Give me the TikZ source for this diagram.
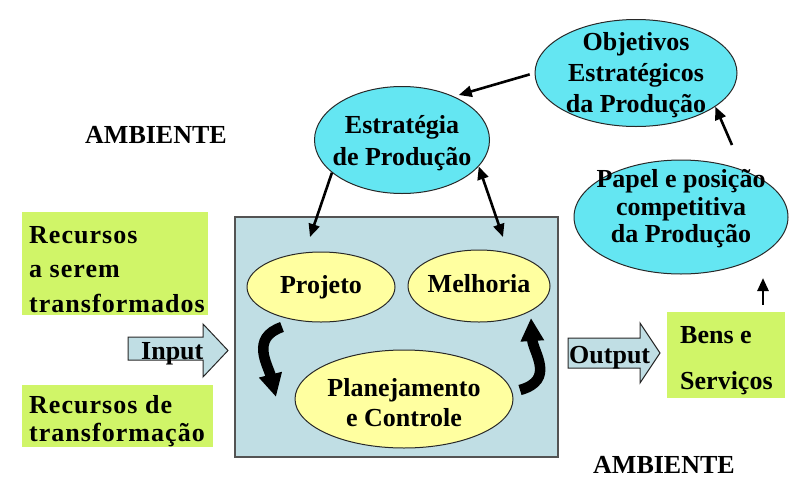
\documentclass[tikz,border=0pt]{standalone}
\usepackage{fontspec}
\setmainfont{Liberation Serif}
\usetikzlibrary{arrows.meta,shapes.geometric}
\definecolor{boxblue}{RGB}{192,222,228}
\definecolor{cyanfill}{RGB}{100,230,242}
\definecolor{yellowfill}{RGB}{255,255,160}
\definecolor{greenfill}{RGB}{208,245,104}
\definecolor{edge}{RGB}{40,40,40}
\begin{document}
\begin{tikzpicture}[x=1pt,y=-1pt,
  txt/.style={font=\bfseries\fontsize{26}{31}\selectfont, inner sep=0pt, align=center, text=black},
  ltxt/.style={font=\bfseries\fontsize{26}{31}\selectfont, inner sep=0pt, align=left, anchor=north west, text=black},
  btxt/.style={font=\bfseries\fontsize{26}{31}\selectfont, inner sep=0pt, anchor=base west, text=black},
  ell/.style={ellipse, draw=edge, line width=1pt, inner sep=0pt},
  cyanell/.style={ell, fill=cyanfill},
  yelell/.style={ell, fill=yellowfill},
  greenbox/.style={rectangle, fill=greenfill, inner sep=0pt},
  arr/.style={line width=2.6pt, draw=black, -{Triangle[length=13pt,width=11pt]}},
  darr/.style={line width=2.6pt, draw=black, {Triangle[length=13pt,width=11pt]}-{Triangle[length=13pt,width=11pt]}},
  curv/.style={line width=10.5pt, draw=black, line cap=butt, -{Triangle[length=23pt,width=22pt]}},
  fatarrow/.style={fill=boxblue, draw=edge, line width=1pt, line join=miter}
]
\useasboundingbox (0,0) rectangle (792,485);

% system box
\node[rectangle, draw=edge!80, line width=1.2pt, fill=boxblue, minimum width=323pt, minimum height=240pt, inner sep=0pt] (sys) at (396.5,337) {};

% ellipses inside
\node[yelell, minimum width=148pt, minimum height=70pt] (proj) at (321,287) {};
\node[txt] (projt) at (321,287) {Projeto};
\node[yelell, minimum width=142pt, minimum height=72pt] (melh) at (479,286) {};
\node[txt] (melht) at (479,284) {Melhoria};
\node[yelell, minimum width=218pt, minimum height=98pt] (plan) at (404,399) {};
\node[txt, font=\bfseries\fontsize{26}{30}\selectfont] (plant) at (404,403) {Planejamento\\e Controle};

% cyan ellipses
\node[cyanell, minimum width=175pt, minimum height=107pt] (est) at (402,140) {};
\node[txt, font=\bfseries\fontsize{26}{32}\selectfont] (estt) at (402,143) {Estratégia\\de Produção};
\node[cyanell, minimum width=202pt, minimum height=107pt] (obj) at (636,73) {};
\node[txt, font=\bfseries\fontsize{26}{31}\selectfont] (objt) at (636,75) {Objetivos\\Estratégicos\\da Produção};
\node[cyanell, minimum width=214pt, minimum height=114pt] (pap) at (681,217) {};
\node[txt, font=\bfseries\fontsize{26}{27.5}\selectfont] (papt) at (681,209) {Papel e posição\\competitiva\\da Produção};

% green boxes
\node[greenbox, minimum width=186pt, minimum height=103pt] (rec1) at (115,263.5) {};
\node[ltxt, font=\bfseries\fontsize{26}{34.5}\selectfont] (rec1t) at (29,226) {\addfontfeature{LetterSpace=4}Recursos\\\addfontfeature{LetterSpace=4}a serem\\\addfontfeature{LetterSpace=4}transformados};
\node[greenbox, minimum width=191pt, minimum height=62pt] (rec2) at (117.5,416) {};
\node[ltxt, font=\bfseries\fontsize{26}{28}\selectfont] (rec2t) at (29,395.5) {\addfontfeature{LetterSpace=4}Recursos de\\\addfontfeature{LetterSpace=4}transformação};
\node[greenbox, minimum width=118pt, minimum height=86pt] (bens) at (726,355) {};
\node[ltxt, font=\bfseries\fontsize{26}{46}\selectfont] (benst) at (680,326) {Bens e\\Serviços};

% labels
\node[btxt] (amb1) at (85,143) {AMBIENTE};
\node[btxt] (amb2) at (593,473) {AMBIENTE};

% input / output arrows
\draw[fatarrow] (128,337) -- (203,337) -- (203,324) -- (228,350.5) -- (203,377) -- (203,360) -- (128,360) -- cycle;
\node[btxt] (inp) at (141,359) {Input};
\draw[fatarrow] (568,338) -- (640,338) -- (640,323) -- (660,353) -- (640,383) -- (640,368) -- (568,368) -- cycle;
\node[btxt] (outp) at (569,363) {Output};

% connectors
\coordinate (projTop) at (310,237);
\coordinate (melhTop) at (503,237);
\coordinate (papTop) at (732,145);
\coordinate (papBot) at (763,278);
\draw[arr, shorten <=5pt, shorten >=5pt] (obj.west) -- (est.40);
\draw[arr] (papTop) -- (obj.-23);
\draw[arr] (est.205) -- (projTop);
\draw[darr] (est.-19) -- (melhTop);
\draw[arr] ([xshift=37pt,yshift=7pt]bens.north) -- (papBot);

% curved cycle arrows
\coordinate (lc1) at (282,327);
\coordinate (lc2) at (276,397);
\coordinate (rc1) at (520,390);
\coordinate (rc2) at (531,318);
\draw[curv] (lc1) .. controls (250,338) and (268,365) .. (lc2);
\draw[curv] (rc1) .. controls (556,380) and (533,352) .. (rc2);
\end{tikzpicture}
\end{document}
